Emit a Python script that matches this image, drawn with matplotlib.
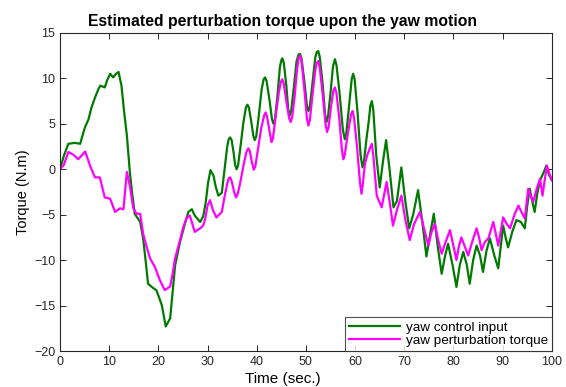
import numpy as np
import matplotlib
matplotlib.use("Agg")
import matplotlib.pyplot as plt

plt.rcParams['font.family'] = ['Liberation Sans', 'DejaVu Sans']

# yaw control input (sampled by hand from the simulation run)
t_ctrl = [0, 0.8, 1.7, 3.0, 4.1, 5.0, 5.8, 6.4, 7.2, 7.8, 8.2, 9.1, 9.6, 10.2, 10.8,
          11.4, 11.9, 12.5, 13.0, 13.6, 14.2, 14.7, 15.2, 16.3, 16.9, 17.4, 17.9, 19.0,
          19.6, 20.7, 21.5, 22.4, 22.9, 23.4, 24.4, 25.3, 26.1, 26.8, 27.4, 28.5, 29.1,
          29.6, 30.1, 30.6, 31.2, 31.7, 32.2, 32.9,
          33.5, 34.0, 34.3, 34.6, 34.9, 35.3, 35.6, 35.9, 36.2, 36.7, 37.3, 37.8, 38.1,
          38.4, 38.9, 39.3, 39.6, 39.9, 40.4, 41.0, 41.4, 41.7, 42.0, 42.6, 43.1, 43.4,
          43.7, 44.2, 44.7, 45.0, 45.2, 45.5, 46.0, 46.4, 46.7, 47.0, 47.5, 48.1, 48.5,
          48.8, 49.1, 49.7, 50.2, 50.5, 50.8, 51.3, 51.9, 52.2, 52.5, 52.8, 53.4, 53.9,
          54.2, 54.5, 55.0, 55.5, 55.9, 56.2, 56.8, 57.5, 57.9, 58.2, 58.8, 59.3, 59.6,
          59.9, 60.5, 61.1, 61.5, 61.8, 62.3, 62.8, 63.1, 63.4, 63.7, 64.3,
          65.0, 65.7, 66.3, 67.0, 67.8, 68.5, 69.4, 70.2, 71.0, 71.8, 72.8, 73.6, 74.5,
          75.3, 76.0, 76.8, 77.6, 78.3, 78.9, 79.8, 80.6, 81.3, 82.0, 82.7, 83.3, 84.0,
          84.7, 85.4, 86.0, 86.7, 87.4, 88.3, 89.1, 89.6, 90.1, 90.6, 91.1, 92.0, 92.8,
          93.7, 94.5, 95.0, 95.5, 96.0, 96.5, 97.0, 97.6, 98.3, 98.9, 99.4, 100]
u_ctrl = [0, 1.5, 2.8, 2.9, 2.8, 4.5, 5.5, 6.8, 8.0, 8.8, 9.2, 9.0, 9.8, 10.5, 10.1,
          10.5, 10.7, 9.2, 6.5, 3.7, -0.3, -2.8, -4.9, -5.8, -7.6, -10.0, -12.6, -13.1,
          -13.3, -14.95, -17.3, -16.4, -13.5, -10.6, -8.0, -6.2, -4.7, -4.4, -5.1, -5.8, -5.2,
          -3.8, -1.5, -0.1, -0.7, -2.0, -2.9, -2.6,
          0.2, 2.5, 3.3, 3.5, 3.2, 1.8, 0.5, 0.0, 0.4, 2.5, 5.2, 6.8, 7.1,
          6.8, 5.2, 3.7, 3.2, 3.6, 5.8, 8.8, 9.9, 10.1, 9.7, 7.6, 5.5, 5.0,
          5.5, 8.0, 11.2, 12.0, 12.2, 11.7, 9.3, 6.6, 5.9, 6.4, 8.8, 11.9, 12.6,
          12.7, 12.2, 9.6, 7.0, 6.4, 6.9, 9.3, 12.3, 12.9, 13.0, 12.4, 9.4, 6.0,
          5.2, 5.8, 8.4, 11.3, 12.1, 11.5, 8.6, 4.4, 3.3, 3.9, 7.1, 9.9, 10.5,
          9.9, 6.2, 1.6, 0.2, 0.8, 3.3, 5.4, 7.0, 7.5, 6.5, 1.5,
          -2.0, 1.0, 3.2, 0.0, -4.2, -3.5, 0.2, -3.5, -6.5, -5.0, -2.3, -5.5, -9.6,
          -7.0, -4.9, -8.5, -11.5, -9.5, -8.2, -10.5, -12.95, -10.5, -9.1, -10.5, -12.6, -10.0,
          -8.4, -9.5, -11.3, -9.0, -7.6, -9.5, -10.9, -8.5, -6.2, -7.5, -8.6, -6.8, -5.6,
          -5.8, -6.5, -4.0, -2.15, -3.5, -4.7, -2.8, -1.2, -0.4, 0.4, -0.6, -1.2]

# estimated yaw perturbation torque
t_pert = [0, 0.8, 1.7, 2.7, 3.7, 4.4, 5.1, 5.6, 6.1, 7.1, 8.1, 8.6, 9.1, 10.2, 11.2,
          12.2, 12.9, 13.6, 14.2, 14.9, 15.6, 16.3, 16.9, 17.6, 18.3, 19.3, 20.3, 21.3,
          22.4, 22.9, 23.4, 24.4, 25.0, 25.7, 26.4, 27.4, 28.5, 29.1, 29.5, 30.0, 30.5,
          31.1, 31.8, 32.9,
          33.5, 34.0, 34.3, 34.6, 34.9, 35.4, 35.8, 36.1, 36.6, 37.3, 37.9, 38.3, 38.6,
          39.0, 39.4, 39.7, 40.2, 40.9, 41.5, 41.8, 42.1, 42.6, 43.0, 43.3, 43.8, 44.5,
          44.9, 45.2, 45.5, 46.1, 46.6, 46.9, 47.2, 47.7, 48.2, 48.5, 48.8, 49.1, 49.7,
          50.2, 50.5, 50.8, 51.3, 51.9, 52.2, 52.5, 52.8, 53.4, 54.0, 54.3, 54.6, 55.1,
          55.6, 55.9, 56.2, 56.8, 57.3, 57.6, 57.9, 58.6, 59.2, 59.5, 59.8, 60.4, 61.0,
          61.3, 61.6, 62.0, 62.5, 63.0, 63.4, 63.7, 64.1,
          64.4, 65.4, 66.4, 67.0, 67.7,
          68.5, 69.4, 70.2, 71.1, 72.0, 73.2, 74.0, 74.9, 75.5, 76.2, 76.9, 77.6, 78.4,
          79.3, 80.0, 80.6, 81.1, 81.6, 82.3, 83.0, 83.8, 84.7, 85.2, 85.7, 86.4, 87.1,
          88.1, 89.1, 90.1, 90.8, 91.5, 92.4, 93.2, 93.9, 94.5, 95.2, 95.7, 96.2, 97.0,
          97.6, 98.1, 98.6, 99.0, 99.5, 100]
d_pert = [0, 0.5, 1.9, 1.6, 1.1, 1.5, 1.95, 1.2, 0.4, -0.9, -0.9, -2.0, -3.1, -3.25, -4.7,
          -4.3, -4.4, -0.3, -1.8, -4.3, -4.9, -4.9, -7.1, -8.5, -9.8, -10.75, -12.2, -13.3,
          -12.9, -11.5, -9.8, -7.8, -6.5, -5.4, -5.1, -6.9, -6.5, -6.2, -5.5, -4.0, -3.4,
          -4.5, -5.3, -4.7,
          -2.9, -1.6, -1.0, -0.9, -1.3, -2.5, -3.1, -2.8, -1.6, 0.4, 1.9, 2.3, 2.0,
          0.8, -0.05, 0.3, 2.0, 4.5, 5.9, 6.25, 5.8, 4.2, 3.0, 3.4, 5.6, 8.5,
          9.6, 9.9, 9.4, 7.2, 5.6, 5.2, 5.7, 8.0, 11.0, 12.2, 12.5, 11.9, 8.7,
          5.6, 4.8, 5.4, 8.0, 10.9, 11.7, 11.9, 11.2, 8.3, 4.9, 4.1, 4.6, 6.9,
          8.7, 9.0, 8.4, 5.5, 2.2, 1.1, 1.6, 4.2, 6.1, 6.4, 5.6, 2.4, -1.5,
          -2.7, -1.5, 0.6, 1.6, 2.3, 2.8, 1.5, -1.0,
          -2.9, -4.2, -1.4, -3.5, -6.2,
          -4.5, -2.9, -5.5, -7.8, -6.0, -4.7, -6.5, -8.4, -7.0, -6.0, -7.8, -9.3, -8.0,
          -6.7, -8.5, -10.0, -8.5, -7.5, -8.5, -9.5, -8.0, -6.5, -7.5, -8.9, -8.0, -7.6,
          -5.8, -8.4, -5.3, -6.0, -6.5, -5.0, -4.0, -4.8, -5.4, -2.15, -2.9, -3.6, -2.0,
          -1.05, -2.9, -1.0, 0.4, -0.5, -1.2]

fig = plt.figure(figsize=(5.66, 3.87), dpi=100)
ax = fig.add_axes([0.106, 0.093, 0.869, 0.822])

ax.plot(t_ctrl, u_ctrl, color='#007a00', linewidth=1.6, label='yaw control input',
        solid_joinstyle='round')
ax.plot(t_pert, d_pert, color='#ff00ff', linewidth=1.6, label='yaw perturbation torque',
        solid_joinstyle='round')

ax.set_xlim(0, 100)
ax.set_ylim(-20, 15)
ax.set_xticks(np.arange(0, 101, 10))
ax.set_yticks(np.arange(-20, 16, 5))
ax.tick_params(direction='in', top=True, right=True, length=4, width=0.7,
               labelsize=9, colors='#262626')
for s in ax.spines.values():
    s.set_linewidth(0.8)
    s.set_color('#262626')

# title and x label sit a little left of the axes centre
ax.set_title('Estimated perturbation torque upon the yaw motion',
             fontsize=11.3, fontweight='bold', pad=5, x=0.453)
ax.set_xlabel('Time (sec.)', fontsize=11, labelpad=3, x=0.453)
ax.set_ylabel('Torque (N.m)', fontsize=10.5, labelpad=3)

leg = ax.legend(loc='lower right', fontsize=9.7, borderaxespad=0, fancybox=False,
                handlelength=3.8, borderpad=0.3, labelspacing=0.05, handletextpad=0.4)
leg.get_frame().set_edgecolor('#262626')
leg.get_frame().set_linewidth(0.8)

fig.savefig('out.png', dpi=100)
